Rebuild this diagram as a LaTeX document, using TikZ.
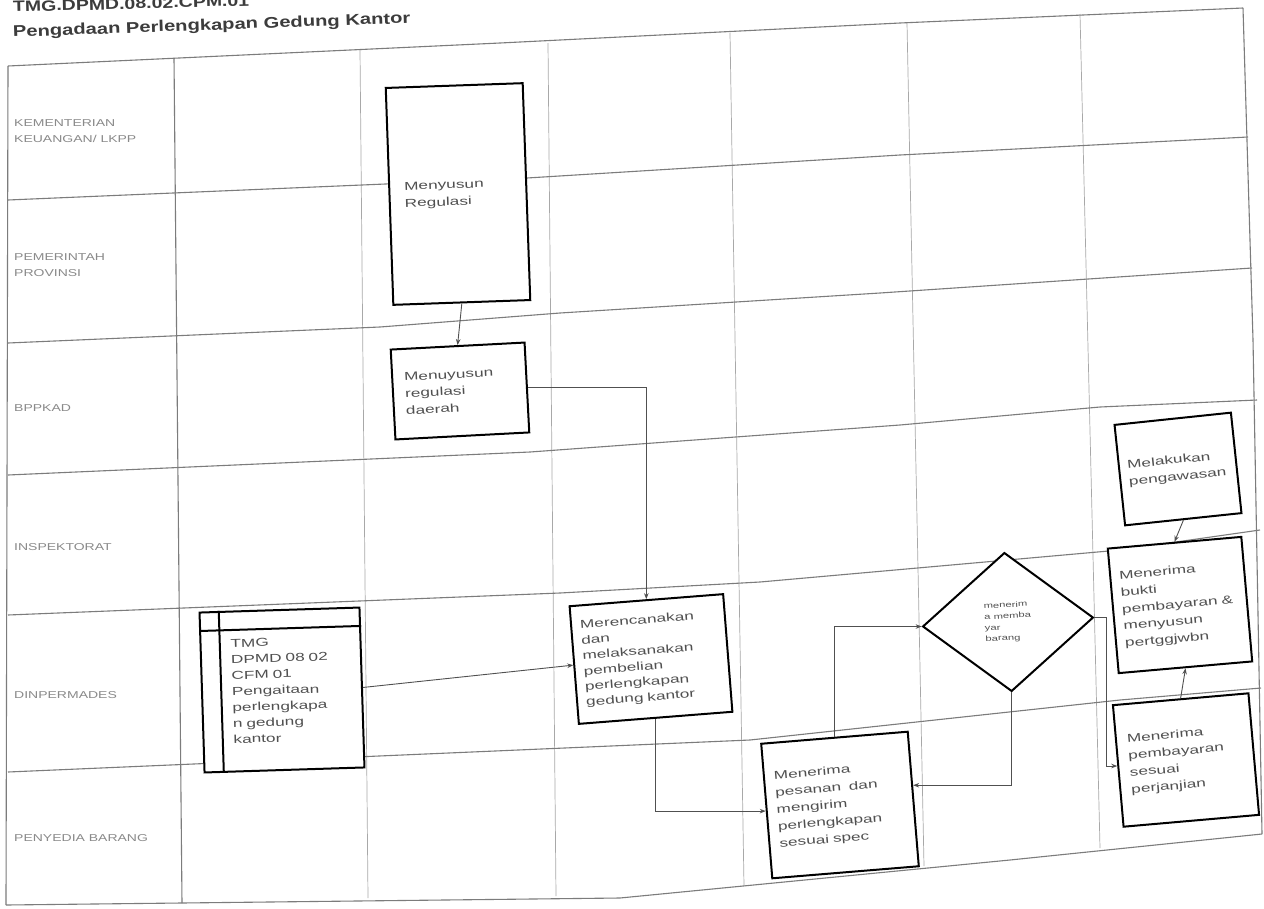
\documentclass[tikz,border=0pt]{standalone}
\usepackage{fontspec}
\setmainfont{Liberation Sans}
\newfontfamily\widefont[FakeStretch=1.5]{Liberation Sans}
\newfontfamily\lanefont[FakeStretch=1.4]{Liberation Sans}
\newfontfamily\titlefont[FakeStretch=1.3]{Liberation Sans}
\usetikzlibrary{shapes.geometric,arrows.meta,calc}
\definecolor{gridc}{HTML}{7C7C7C}
\definecolor{colc}{HTML}{A8A8A8}
\definecolor{lanec}{HTML}{8A8A8A}
\definecolor{boxtext}{HTML}{505050}
\definecolor{linec}{HTML}{505050}
\definecolor{titlec}{HTML}{3C3C3C}
\tikzset{
  gridline/.style={draw=gridc, line width=1.1pt},
  colline/.style={draw=colc, line width=0.7pt},
  lane/.style={font=\lanefont\fontsize{10}{16}\selectfont, text=lanec, anchor=west, align=left, inner sep=0pt},
  proc/.style={draw=black, line width=2pt, fill=white, text=boxtext,
    font=\widefont\fontsize{11.5}{17}\selectfont, align=left, inner sep=0pt},
  decision/.style={diamond, draw=black, line width=2pt, fill=white, text=boxtext,
    font=\widefont\fontsize{7.5}{11}\selectfont, align=left, inner sep=0pt},
  flow/.style={draw=linec, line width=0.9pt, -{Stealth[length=6pt,width=4.5pt]}},
  titletext/.style={font=\titlefont\bfseries\fontsize{15}{18}\selectfont, text=titlec, anchor=base west, inner sep=0pt}
}
\begin{document}
\begin{tikzpicture}[x=1pt,y=-1pt]
\useasboundingbox (0,0) rectangle (1264,908);
\fill[white] (0,0) rectangle (1264,908);

% titles
\node[titletext, rotate=1.5] (code) at (13,12) {TMG.DPMD.08.02.CPM.01};
\node[titletext, rotate=2, font=\titlefont\bfseries\fontsize{15.5}{18}\selectfont] (title) at (13,37) {Pengadaan Perlengkapan Gedung Kantor};

% columns
\draw[gridline] (8,66) -- (6,905);
\draw[gridline] (174,58) -- (182,903);
\draw[colline] (360,50) -- (368,898);
\draw[colline] (548,43) -- (556,896);
\draw[colline] (730,33) -- (744,886);
\draw[colline] (907,23) -- (924,866);
\draw[colline] (1080,14) -- (1100,848);
\draw[gridline] (1243,8) -- (1253,340) -- (1262,834);

% rows
\draw[gridline] (8,66) -- (500,43) -- (900,23) -- (1243,8);
\draw[gridline] (8,200) -- (527,178) -- (900,155) -- (1248,137);
\draw[gridline] (8,343) -- (380,327) -- (560,313) -- (880,293) -- (1252,268);
\draw[gridline] (8,475) -- (530,452) -- (900,425) -- (1100,407) -- (1257,400);
\draw[gridline] (8,615) -- (560,593) -- (760,582) -- (1120,550) -- (1260,530);
\draw[gridline] (8,772) -- (750,740) -- (1120,700) -- (1261,688);
\draw[gridline] (6,905) -- (620,898) -- (1010,860) -- (1262,834);

% lane labels
\node[lane] (lane1) at (14,131) {KEMENTERIAN\\KEUANGAN/ LKPP};
\node[lane] (lane2) at (14,265) {PEMERINTAH\\PROVINSI};
\node[lane] (lane3) at (14,408) {BPPKAD};
\node[lane] (lane4) at (14,547) {INSPEKTORAT};
\node[lane] (lane5) at (14,695) {DINPERMADES};
\node[lane] (lane6) at (14,838) {PENYEDIA BARANG};

% process boxes
\node[proc, rotate=2, minimum width=137pt, minimum height=217pt, text width=107pt] (regA) at (458,194) {Menyusun\\Regulasi};
\node[proc, rotate=3, minimum width=134pt, minimum height=90pt, text width=110pt] (regB) at (460,391) {Menuyusun\\regulasi\\daerah};
\node[proc, rotate=4.5, minimum width=154pt, minimum height=118pt, text width=136pt,
      font=\widefont\fontsize{11.5}{15.5}\selectfont] (plan) at (651,659) {Merencanakan\\dan\\melaksanakan\\pembelian\\perlengkapan\\gedung kantor};
\node[proc, rotate=1.8, minimum width=160pt, minimum height=160pt, text width=140pt,
      font=\widefont\fontsize{11.5}{16}\selectfont] (doc) at (282,690)
      {\hspace*{20pt}\raisebox{-8pt}{\begin{minipage}[c]{118pt}\raggedright TMG\\DPMD 08 02\\CFM 01\\Pengaitaan\\perlengkapa\\n gedung\\kantor\end{minipage}}};
\draw[black, line width=2pt] ($(doc.north west)!0.125!(doc.north east)$) -- ($(doc.south west)!0.125!(doc.south east)$);
\draw[black, line width=2pt] ($(doc.north west)!0.12!(doc.south west)$) -- ($(doc.north east)!0.12!(doc.south east)$);
\node[proc, rotate=4.7, minimum width=147pt, minimum height=135pt, text width=127pt] (recv) at (840,805) {Menerima\\pesanan\ \ dan\\mengirim\\perlengkapan\\sesuai spec};
\node[decision, rotate=3, minimum width=171pt, minimum height=139pt] (dec) at (1008,622) {menerim\\a memba\\yar\\barang};
\node[proc, rotate=6, minimum width=117pt, minimum height=101pt, text width=100pt] (watch) at (1178,469) {Melakukan\\pengawasan};
\node[proc, rotate=5, minimum width=134pt, minimum height=125pt, text width=116pt] (proof) at (1180,605) {Menerima\\bukti\\pembayaran \&\\menyusun\\pertggjwbn};
\node[proc, rotate=5, minimum width=136pt, minimum height=122pt, text width=114pt] (pay) at (1186,760) {Menerima\\pembayaran\\sesuai\\perjanjian};

% connectors
\draw[flow] (regA.south) -- (regB.north);
\draw[flow] (regB.east) -| (plan.north);
\draw[flow] (doc.east) -- (plan.west);
\draw[flow] (plan.south) |- (recv.west);
\draw[flow] (recv.north) |- (dec.west);
\coordinate (recvin) at ($(recv.north east)!0.4!(recv.south east)$);
\draw[flow] (dec.south) |- (recvin);
\coordinate (decout) at ($(dec.east)+(12,0)$);
\draw[flow] (dec.east) -- (decout) |- (pay.west);
\draw[flow] (watch.south) -- (proof.north);
\draw[flow] (pay.north) -- (proof.south);
\end{tikzpicture}
\end{document}
